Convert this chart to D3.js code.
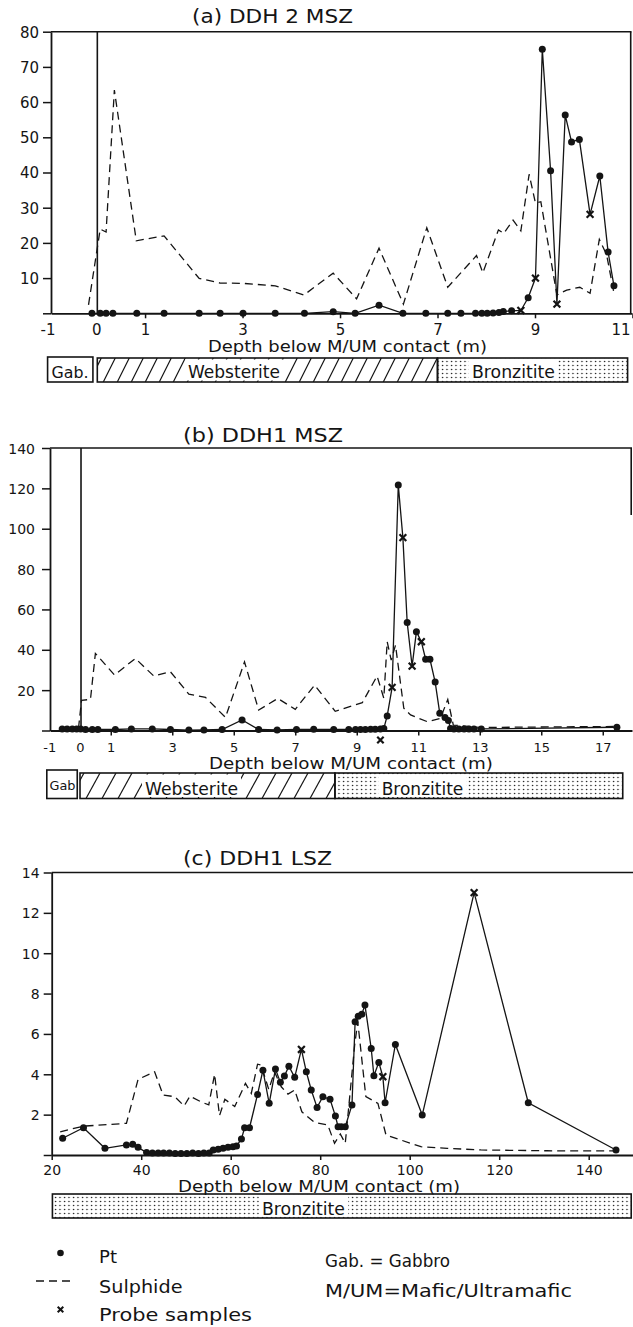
<!DOCTYPE html>
<html><head><meta charset="utf-8">
<script src="https://cdn.jsdelivr.net/npm/d3@7/dist/d3.min.js"></script>
<style>
html,body{margin:0;padding:0;background:#fff;}
svg{display:block;}
</style></head>
<body>
<svg id="chart" width="633" height="1327"></svg>
<script>
// ================= DATA =================
// (a) DDH 2 MSZ
const aPtDepth=[-0.09,0.08,0.20,0.34,0.83,1.39,2.11,2.54,3.01,3.67,4.27,4.86,5.31,5.80,6.29,6.76,7.21,7.48,7.78,7.91,8.02,8.14,8.26,8.35,8.52,8.71,8.86,9.01,9.15,9.32,9.45,9.62,9.75,9.91,10.13,10.33,10.50,10.62];
const aPtValue=[0,0,0,0,0,0,0,0,0,0,0,0.45,0,2.3,0,0,0,0,0,0,0,0.1,0.2,0.5,0.7,0.8,4.4,10,75,40.5,2.6,56.3,48.7,49.4,28.1,39,17.4,7.8];
const aPtProbe=[0,0,0,0,0,0,0,0,0,0,0,0,0,0,0,0,0,0,0,0,0,0,0,0,0,1,0,1,0,0,1,0,0,0,1,0,0,0];
const aSulDepth=[-0.16,-0.02,0.08,0.20,0.37,0.82,1.39,2.11,2.54,3.01,3.67,4.26,4.86,5.34,5.80,6.30,6.78,7.21,7.80,7.93,8.25,8.36,8.55,8.71,8.88,9.01,9.12,9.45,9.65,9.92,10.13,10.32,10.47,10.62];
const aSulValue=[2.4,15,23.9,23.1,63.4,20.6,22,9.9,8.6,8.5,7.8,5.2,11.4,4.1,18.5,2.6,24.3,7.4,16.4,11.5,23.7,22.7,26.5,23.4,39.5,31.3,31.7,5.2,6.6,7.4,5.7,21,16.6,5.7];
const aXTicks=[1,3,5,7,9,11];
const aXLabels=[-1,0,1,3,5,7,9,11];
const aYTicks=[0,10,20,30,40,50,60,70,80];
const aLithName=["Gab.","Websterite","Bronzitite"];
const aLithFrom=[-1.0,0.02,7.0];
const aLithTo=[-0.07,7.0,10.9];

// (b) DDH1 MSZ
const bPtDepth=[-0.58,-0.42,-0.25,-0.11,0.02,0.18,0.40,0.58,1.15,1.67,2.35,2.94,3.54,4.03,4.62,5.27,5.81,6.41,7.04,7.60,8.25,8.74,8.96,9.12,9.28,9.45,9.60,9.77,9.88,9.99,10.15,10.35,10.50,10.64,10.80,10.94,11.10,11.24,11.38,11.55,11.70,11.87,11.98,12.05,12.16,12.32,12.49,12.65,12.81,13.05,17.46];
const bPtValue=[0.8,0.8,0.8,0.8,0.8,0.5,0.5,0.5,0.5,0.8,0.8,0.5,0.2,0.3,0.5,5.2,0.5,0.3,0.5,0.6,0.5,0.5,0.5,0.5,0.5,0.6,0.6,0.7,1.0,7.2,21.4,121.7,95.6,53.5,31.9,49,44,35.3,35.3,24,8.5,6.5,5.0,1.0,0.8,0.8,0.8,0.8,0.8,0.8,1.6];
const bPtProbe=[0,0,0,0,0,0,0,0,0,0,0,0,0,0,0,0,0,0,0,0,0,0,0,0,0,0,0,0,0,0,1,0,1,0,1,0,1,0,0,0,0,0,0,0,0,0,0,0,0,0,0];
const bExtraProbeDepth=[9.77];
const bExtraProbeValue=[-4.7];
const bSulDepth=[-0.05,0.05,0.34,0.50,1.12,1.80,2.40,2.94,3.54,4.08,4.73,5.35,5.81,6.43,7.00,7.63,8.30,9.18,9.66,9.88,9.99,10.12,10.26,10.53,10.75,11.29,11.72,11.96,12.14,13.0,17.46];
const bSulValue=[1,15,15.4,38.2,27.5,35.7,27,29.1,18,16.4,6.5,34,10.1,15.9,10.5,22.5,9.5,13.8,27,16,44,34.9,42.3,11,7.7,4.4,6,15.4,2.7,1.5,2];
const bXTicks=[1,3,5,7,9,11,13,15,17];
const bXLabels=[-1,0,1,3,5,7,9,11,13,15,17];
const bYTicks=[0,20,40,60,80,100,120,140];
const bLithName=["Gab","Websterite","Bronzitite"];
const bLithFrom=[-1.08,0.0,8.29];
const bLithTo=[-0.09,8.29,17.65];

// (c) DDH1 LSZ
const cPtDepth=[22.45,27.1,31.9,36.7,38.1,39.3,41.2,42.5,43.8,45.0,46.3,47.6,48.9,50.2,51.5,52.8,54.0,55.2,56.1,57.2,58.3,59.4,60.5,61.3,62.4,63.1,64.2,66.0,67.2,68.6,70.0,71.1,72.0,73.0,74.3,75.8,76.9,78.0,79.3,80.6,82.2,83.4,84.0,84.7,85.6,87.1,87.8,88.5,89.3,90.0,91.4,92.0,93.1,94.0,94.5,96.8,102.8,114.4,126.5,146.1];
const cPtValue=[0.83,1.35,0.33,0.5,0.53,0.38,0.12,0.1,0.1,0.1,0.1,0.08,0.08,0.08,0.1,0.08,0.1,0.1,0.25,0.28,0.33,0.38,0.41,0.45,0.79,1.35,1.35,3.0,4.2,2.56,4.26,3.6,3.91,4.4,3.85,5.23,4.12,3.22,2.36,2.89,2.76,1.93,1.4,1.4,1.4,2.48,6.6,6.88,6.98,7.43,5.28,3.93,4.59,3.88,2.59,5.48,1.98,13.0,2.59,0.25];
const cPtProbe=[0,0,0,0,0,0,0,0,0,0,0,0,0,0,0,0,0,0,0,0,0,0,0,0,0,0,0,0,0,0,0,0,0,0,0,1,0,0,0,0,0,0,0,0,0,0,0,0,0,0,0,0,0,1,0,0,0,1,0,0];
const cSulDepth=[21.9,27.1,36.7,39.3,43.0,44.9,47.5,49.6,50.9,53.3,55.1,56.4,57.5,58.7,60.9,63.3,64.6,66.0,66.8,68.5,69.8,71.3,72.8,74.3,75.9,78.7,81.7,83.2,84.5,85.6,87.7,88.4,90.2,92.9,94.7,102.5,108.4,115.9,130.7,146.0];
const cSulValue=[1.15,1.43,1.57,3.75,4.12,2.97,2.89,2.43,2.92,2.64,2.48,4.0,1.95,2.76,2.4,3.55,3.05,4.5,4.46,3.25,4.12,3.38,3.02,3.22,2.14,1.62,1.49,0.58,1.04,0.58,5.45,6.6,2.89,2.56,0.99,0.41,0.33,0.25,0.21,0.2];
const cXTicks=[20,40,60,80,100,120,140];
const cXLabels=[20,40,60,80,100,120,140];
const cYTicks=[0,2,4,6,8,10,12,14];
const cLithName=["Bronzitite"];
const cLithFrom=[20.16];
const cLithTo=[149.5];

const titles=["(a) DDH 2 MSZ","(b) DDH1 MSZ","(c) DDH1 LSZ"];
const xAxisTitle="Depth below M/UM contact (m)";
const legendItems=["Pt","Sulphide","Probe samples"];
const legendNotes=["Gab. = Gabbro","M/UM=Mafic/Ultramafic"];

// ================= LAYOUT =================
const FONT='"DejaVu Sans","Liberation Sans",sans-serif';
const INK="#141414";
const svg=d3.select("#chart");
const defs=svg.append("defs");
const dp=defs.append("pattern").attr("id","dotfill").attr("patternUnits","userSpaceOnUse")
  .attr("width",4.5).attr("height",4);
dp.append("circle").attr("cx",1.5).attr("cy",1.5).attr("r",0.75).attr("fill",INK);

const panels=[
 {d:{pd:aPtDepth,pv:aPtValue,pp:aPtProbe,sd:aSulDepth,sv:aSulValue,xt:aXTicks,xl:aXLabels,yt:aYTicks,ln:aLithName,lf:aLithFrom,lt:aLithTo,ed:[],ev:[]},
  L:{xDomain:[-0.93,10.98],xRange:[51,631.5],yDomain:[0,80],yRange:[313.3,31.7],rightEnd:313.3,
     yGap:12,yFont:15,xLabOff:22,xFont:15,zeroLine:true,lastLabShift:-12,
     title:[192,23,161],axl:[208,352,279,16],bar:[358,382],gabTop:357,
     lithLab:[[51.5,378,37,15],[188,378,92,17],[472,378,83,17]],hatch:[14,12]}},
 {d:{pd:bPtDepth,pv:bPtValue,pp:bPtProbe,sd:bSulDepth,sv:bSulValue,xt:bXTicks,xl:bXLabels,yt:bYTicks,ln:bLithName,lf:bLithFrom,lt:bLithTo,ed:bExtraProbeDepth,ev:bExtraProbeValue},
  L:{xDomain:[-0.976,17.951],xRange:[50,632],yDomain:[0,140],yRange:[730.5,448],rightEnd:515,
     yGap:15,yFont:14,xLabOff:21,xFont:13,zeroLine:true,lastLabShift:0,
     title:[183,442,160],axl:[209,768.5,284,16],bar:[773,798.5],gabTop:770,
     lithLab:[[49.5,790,26,12],[145,795,93,17],[381.7,795,81.6,17]],hatch:[16,14]}},
 {d:{pd:cPtDepth,pv:cPtValue,pp:cPtProbe,sd:cSulDepth,sv:cSulValue,xt:cXTicks,xl:cXLabels,yt:cYTicks,ln:cLithName,lf:cLithFrom,lt:cLithTo,ed:[],ev:[]},
  L:{xDomain:[20,150],xRange:[51.7,633.45],yDomain:[0,14],yRange:[1155,872.5],rightEnd:null,
     yGap:12,yFont:14,xLabOff:20,xFont:14,zeroLine:false,lastLabShift:0,
     title:[183,865,149],axl:[178,1191.5,282,15],bar:[1194,1218],gabTop:1194,
     lithLab:[[262,1215,83,17]],hatch:[14,12]}}
];

function xMark(g,cx,cy,s,w){
  g.append("path").attr("d",`M${cx-s},${cy-s}L${cx+s},${cy+s}M${cx-s},${cy+s}L${cx+s},${cy-s}`)
   .attr("stroke",INK).attr("stroke-width",w).attr("fill","none");
}

panels.forEach((P,pi)=>{
  const d=P.d,L=P.L;
  const x=d3.scaleLinear().domain(L.xDomain).range(L.xRange);
  const y=d3.scaleLinear().domain(L.yDomain).range(L.yRange);
  const g=svg.append("g");
  const xl=L.xRange[0],xr=L.xRange[1],yb=L.yRange[0],yt=L.yRange[1];
  // frame
  g.append("line").attr("x1",xl).attr("x2",xr).attr("y1",yt).attr("y2",yt).attr("stroke",INK).attr("stroke-width",1.6);
  if(L.rightEnd) g.append("line").attr("x1",xr-0.8).attr("x2",xr-0.8).attr("y1",yt).attr("y2",L.rightEnd).attr("stroke",INK).attr("stroke-width",1.6);
  // y axis
  const ya=g.append("g").attr("transform",`translate(${xl},0)`)
    .call(d3.axisLeft(y).tickValues(d.yt).tickSize(8).tickSizeOuter(0).tickFormat(v=>v===0?"":String(v)));
  ya.select(".domain").attr("stroke",INK).attr("stroke-width",1.8);
  ya.selectAll(".tick line").attr("stroke",INK).attr("stroke-width",1.5);
  ya.selectAll(".tick text").attr("x",-L.yGap).attr("dy","0.36em").attr("font-size",L.yFont)
    .attr("font-family",FONT).attr("fill",INK);
  // x axis: ticks
  const xa=g.append("g").attr("transform",`translate(0,${yb})`)
    .call(d3.axisBottom(x).tickValues(d.xt).tickSize(5).tickSizeOuter(0).tickFormat(""));
  xa.select(".domain").attr("stroke",INK).attr("stroke-width",1.8);
  xa.selectAll(".tick line").attr("stroke",INK).attr("stroke-width",1.5);
  // x axis: labels
  const xb=g.append("g").attr("transform",`translate(0,${yb})`)
    .call(d3.axisBottom(x).tickValues(d.xl).tickSize(0).tickFormat(v=>String(v)));
  xb.select(".domain").remove();
  xb.selectAll(".tick text").attr("y",L.xLabOff).attr("dy",0).attr("font-size",L.xFont)
    .attr("font-family",FONT).attr("fill",INK)
    .attr("x",(v,i,n)=>i===n.length-1?L.lastLabShift:0);
  // vertical contact line
  if(L.zeroLine) g.append("line").attr("x1",x(0)+1).attr("x2",x(0)+1).attr("y1",yb).attr("y2",yt)
    .attr("stroke",INK).attr("stroke-width",1.6);
  // sulphide (dashed)
  const sIdx=d3.range(d.sd.length);
  g.append("path").attr("d",d3.line().x(i=>x(d.sd[i])).y(i=>y(d.sv[i]))(sIdx))
    .attr("fill","none").attr("stroke",INK).attr("stroke-width",1.3).attr("stroke-dasharray","8,5");
  // Pt (solid)
  const pIdx=d3.range(d.pd.length);
  g.append("path").attr("d",d3.line().x(i=>x(d.pd[i])).y(i=>y(d.pv[i]))(pIdx))
    .attr("fill","none").attr("stroke",INK).attr("stroke-width",1.3);
  g.selectAll("circle.pt").data(pIdx.filter(i=>!d.pp[i])).join("circle").attr("class","pt")
    .attr("cx",i=>x(d.pd[i])).attr("cy",i=>y(d.pv[i])).attr("r",3.5).attr("fill",INK);
  pIdx.filter(i=>d.pp[i]).forEach(i=>xMark(g,x(d.pd[i]),y(d.pv[i]),3.4,2.2));
  d.ed.forEach((v,i)=>xMark(g,x(v),y(d.ev[i]),3.2,2.2));
  // title
  g.append("text").attr("x",L.title[0]).attr("y",L.title[1]).attr("textLength",L.title[2])
    .attr("lengthAdjust","spacingAndGlyphs").attr("font-size",19).attr("font-family",FONT).attr("fill",INK).text(titles[pi]);
  // axis title
  g.append("text").attr("x",L.axl[0]).attr("y",L.axl[1]).attr("textLength",L.axl[2])
    .attr("lengthAdjust","spacingAndGlyphs").attr("font-size",L.axl[3]).attr("font-family",FONT).attr("fill",INK).text(xAxisTitle);
  // lithology bar
  const bt=L.bar[0],bb=L.bar[1];
  d.ln.forEach((name,i)=>{
    const x0=x(d.lf[i]),x1=x(d.lt[i]);
    const top=(name.startsWith("Gab"))?L.gabTop:bt;
    const cid=`clip${pi}_${i}`;
    defs.append("clipPath").attr("id",cid).append("rect").attr("x",x0).attr("y",top).attr("width",x1-x0).attr("height",bb-top);
    if(name==="Bronzitite"){
      g.append("rect").attr("x",x0).attr("y",top).attr("width",x1-x0).attr("height",bb-top).attr("fill","url(#dotfill)");
    } else if(name==="Websterite"){
      const hg=g.append("g").attr("clip-path",`url(#${cid})`);
      for(let hx=x0-L.hatch[1]+4; hx<x1; hx+=L.hatch[0]){
        hg.append("line").attr("x1",hx).attr("y1",bb).attr("x2",hx+L.hatch[1]).attr("y2",top)
          .attr("stroke",INK).attr("stroke-width",1.2);
      }
    }
    const lab=L.lithLab[i];
    if(!name.startsWith("Gab")){
      g.append("rect").attr("x",lab[0]-3).attr("y",top+1.5).attr("width",lab[2]+6).attr("height",bb-top-3).attr("fill","#fff");
    }
    g.append("rect").attr("x",x0).attr("y",top).attr("width",x1-x0).attr("height",bb-top)
      .attr("fill","none").attr("stroke",INK).attr("stroke-width",1.6);
    g.append("text").attr("x",lab[0]).attr("y",lab[1]).attr("textLength",lab[2]).attr("lengthAdjust","spacingAndGlyphs")
      .attr("font-size",lab[3]).attr("font-family",FONT).attr("fill",INK).text(name);
  });
});

// ================= LEGEND =================
const lg=svg.append("g");
lg.append("circle").attr("cx",60.5).attr("cy",1253).attr("r",3.3).attr("fill",INK);
lg.append("line").attr("x1",36).attr("x2",72).attr("y1",1281).attr("y2",1281).attr("stroke",INK)
  .attr("stroke-width",1.3).attr("stroke-dasharray","8,5");
xMark(lg,60.5,1309.5,2.8,2);
const legX=[99,99,99],legY=[1262.5,1293,1320.5],legLen=[18,83.5,153];
legendItems.forEach((t,i)=>lg.append("text").attr("x",legX[i]).attr("y",legY[i]).attr("textLength",legLen[i])
  .attr("lengthAdjust","spacingAndGlyphs").attr("font-size",18).attr("font-family",FONT).attr("fill",INK).text(t));
const noteY=[1266.5,1297],noteLen=[125,247];
legendNotes.forEach((t,i)=>lg.append("text").attr("x",325).attr("y",noteY[i]).attr("textLength",noteLen[i])
  .attr("lengthAdjust","spacingAndGlyphs").attr("font-size",18).attr("font-family",FONT).attr("fill",INK).text(t));
</script>
</body></html>
